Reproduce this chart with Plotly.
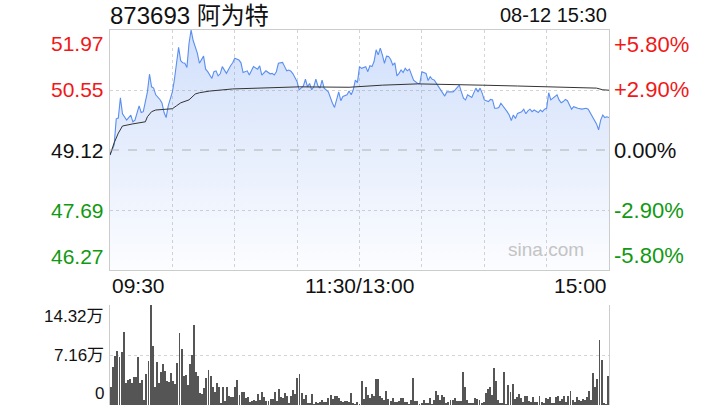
import plotly.graph_objects as go

# ---------------- data ----------------
title_text = "873693 阿为特"
time_text = "08-12 15:30"
prev_close = 49.12
price_ticks = [51.97, 50.55, 49.12, 47.69, 46.27]
pct_ticks = ["+5.80%", "+2.90%", "0.00%", "-2.90%", "-5.80%"]
x_tick_labels = ["09:30", "11:30/13:00", "15:00"]
vol_tick_labels = ["14.32万", "7.16万", "0"]
vol_max = 14.32  # 万

price_minute = [0, 2, 3, 4, 5, 6, 8, 9, 10, 11, 12, 14, 15, 16, 18, 19, 20, 21, 22, 24,
                25, 26, 27, 28, 30, 31, 32, 33, 34, 35, 36, 37, 38, 39, 40, 41, 42, 43, 44, 45,
                46, 47, 49, 50, 51, 52, 53, 54, 56, 57, 58, 59, 60, 62, 63, 64, 66, 67, 68, 69,
                71, 72, 73, 74, 75, 77, 78, 79, 80, 81, 83, 84, 85, 86, 87, 88, 90, 91, 92, 93,
                94, 95, 96, 97, 98, 99, 100, 101, 102, 103, 105, 106, 107, 108, 109, 110, 111, 112, 114, 115,
                116, 117, 118, 119, 120, 121, 123, 124, 125, 126, 127, 128, 129, 130, 131, 132, 133, 134, 135, 136,
                137, 138, 139, 140, 141, 142, 143, 144, 146, 147, 148, 149, 150, 152, 153, 154, 155, 156, 157, 159,
                160, 161, 162, 164, 165, 166, 168, 169, 170, 171, 172, 174, 175, 176, 177, 178, 179, 180, 182, 183,
                184, 185, 186, 187, 188, 190, 191, 192, 193, 194, 195, 196, 198, 199, 200, 201, 202, 203, 204, 206,
                207, 208, 209, 210, 211, 212, 213, 215, 216, 217, 218, 219, 220, 222, 223, 224, 225, 227, 229, 230,
                231, 232, 233, 234, 235, 236, 237, 238, 239, 240]
price_value = [49.00, 49.24, 49.86, 49.88, 50.36, 49.98, 49.83, 49.88, 49.95, 49.79, 49.83, 50.17, 50.01, 50.03, 50.50, 50.92, 50.62, 50.59, 50.43, 50.32,
               50.24, 50.01, 49.89, 50.17, 50.50, 50.80, 51.18, 51.56, 51.24, 51.19, 51.18, 51.08, 51.65, 51.97, 51.72, 51.57, 51.42, 51.18, 51.26, 51.35,
               51.04, 50.98, 50.82, 50.98, 51.00, 50.88, 50.93, 51.10, 50.94, 51.04, 51.12, 51.19, 51.30, 51.26, 51.19, 50.96, 51.00, 50.90, 51.02, 51.10,
               51.04, 51.12, 50.90, 50.94, 51.00, 50.93, 50.94, 50.90, 50.98, 51.18, 51.20, 51.10, 51.00, 51.02, 50.99, 50.93, 50.74, 50.55, 50.59, 50.64,
               50.80, 50.62, 50.70, 50.55, 50.62, 50.80, 50.64, 50.59, 50.78, 50.59, 50.50, 50.35, 50.23, 50.13, 50.32, 50.50, 50.29, 50.39, 50.43, 50.52,
               50.43, 50.55, 50.78, 50.72, 51.10, 51.06, 51.10, 50.98, 51.12, 51.10, 51.22, 51.50, 51.38, 51.54, 51.38, 51.18, 51.35, 51.34, 51.27, 51.14,
               51.19, 50.88, 50.94, 51.02, 50.96, 51.06, 51.00, 51.04, 50.78, 50.74, 50.70, 50.70, 50.98, 50.94, 50.77, 50.86, 50.80, 50.78, 50.70, 50.55,
               50.45, 50.40, 50.50, 50.50, 50.50, 50.55, 50.66, 50.50, 50.35, 50.31, 50.43, 50.37, 50.47, 50.59, 50.50, 50.59, 50.47, 50.31, 50.27, 50.32,
               50.31, 50.11, 50.11, 50.13, 50.23, 50.11, 50.03, 49.95, 49.82, 49.95, 49.87, 49.99, 50.03, 50.09, 49.98, 50.05, 50.09, 50.03, 50.07, 50.01,
               50.07, 50.03, 50.09, 50.11, 50.48, 50.31, 50.35, 50.43, 50.31, 50.24, 50.27, 50.32, 50.29, 50.09, 50.15, 50.13, 50.11, 50.09, 50.11, 50.09,
               50.01, 49.91, 49.83, 49.74, 49.60, 49.83, 49.95, 49.89, 49.91, 49.89]

avg_minute = [0, 2, 4, 6, 11, 17, 18, 20, 22, 27, 30, 32, 34, 38, 41, 43, 48, 59, 75, 91,
              115, 131, 148, 164, 179, 196, 212, 228, 234, 237, 240]
avg_value = [49.00, 49.29, 49.52, 49.69, 49.74, 49.79, 49.91, 50.03, 50.07, 50.09, 50.10, 50.17, 50.24, 50.31, 50.45, 50.48, 50.52, 50.57, 50.60, 50.62,
             50.61, 50.66, 50.69, 50.68, 50.66, 50.64, 50.62, 50.61, 50.59, 50.55, 50.54]

# volume per minute, in 万
volume = [2.62, 5.49, 7.02, 7.73, 6.92, 7.54, 10.50, 3.20, 3.58, 3.72,
          3.20, 4.06, 4.06, 6.92, 3.10, 3.58, 0.72, 4.44, 6.30, 14.32,
          8.45, 2.62, 6.11, 3.20, 4.77, 5.87, 4.87, 3.44, 3.34, 4.53,
          3.44, 2.96, 5.97, 10.36, 7.97, 4.20, 4.30, 2.86, 5.87, 7.16,
          11.46, 4.68, 4.15, 1.77, 1.62, 2.48, 3.82, 4.96, 4.15, 2.62,
          1.91, 3.20, 2.62, 0.24, 2.58, 0.57, 2.58, 1.29, 1.19, 1.19,
          2.53, 3.58, 1.43, 1.81, 1.81, 1.05, 1.15, 0.38, 0.62, 0.72,
          0.57, 1.58, 0.72, 1.86, 1.19, 0.57, 0.57, 0.81, 0.81, 1.86,
          0.57, 2.24, 1.19, 0.95, 1.77, 1.34, 0.24, 1.29, 2.15, 1.58,
          3.91, 4.44, 1.77, 0.81, 1.48, 0.29, 0.33, 1.58, 0.14, 0.43,
          0.33, 0.48, 0.72, 0.48, 0.38, 0.95, 1.48, 0.81, 1.24, 1.34,
          1.00, 0.57, 0.48, 0.57, 0.52, 0.48,
          1.72, 0.24, 0.14, 0.38, 0.14, 3.44, 0.81, 2.58, 1.43, 1.05,
          1.58, 1.29, 3.72, 3.72, 1.29, 0.95, 0.72, 2.00, 0.86, 0.57,
          1.00, 0.48, 0.48, 0.57, 0.95, 0.95, 0.48, 0.48, 0.14, 0.72,
          3.87, 0.57, 0.57, 0.14, 0.33, 0.72, 0.33, 0.33, 0.95, 0.05,
          0.72, 2.00, 1.48, 0.72, 1.43, 1.15, 0.24, 0.38, 0.72, 0.72,
          0.95, 0.57, 0.52, 0.52, 4.73, 2.58, 0.72, 0.29, 0.33, 0.33,
          0.95, 0.86, 0.67, 0.24, 0.38, 1.72, 2.29, 2.58, 1.43, 5.30,
          3.44, 0.72, 0.33, 0.33, 4.73, 0.14, 2.91, 1.91, 3.01, 0.91,
          1.15, 1.58, 1.05, 0.38, 1.34, 1.34, 0.57, 0.48, 1.15, 0.43,
          0.43, 1.29, 0.43, 0.29, 0.95, 0.86, 1.15, 0.33, 0.24, 1.15,
          1.29, 0.57, 0.86, 1.29, 0.38, 1.29, 2.00, 0.72, 0.38, 1.15,
          0.72, 0.57, 0.86, 0.72, 1.15, 2.00, 0.72, 4.58, 2.58, 3.72,
          9.31, 6.44, 0.24, 0.14, 4.20]
vol_minute = list(range(len(volume)))

# ---------------- styles ----------------
W, H = 720, 420
RED, GREEN, BLACK = "#f01818", "#119911", "#111111"
FONT = "Liberation Sans, Arial, Noto Sans CJK SC, sans-serif"
FS = 21


def px(x):
    return x / W


def py(y):
    return 1 - y / H


pmin, pmax = price_ticks[-1], price_ticks[0]
xdom = [px(110), px(609)]

fig = go.Figure()
fig.add_trace(go.Scatter(
    x=price_minute, y=price_value, mode="lines",
    line=dict(color="#5a8ef0", width=1.1),
    fill="tozeroy",
    fillgradient=dict(type="vertical", start=pmin, stop=pmax,
                      colorscale=[[0, "rgba(90,142,240,0.02)"], [1, "rgba(90,142,240,0.28)"]]),
    hoverinfo="skip", xaxis="x", yaxis="y"))
fig.add_trace(go.Scatter(
    x=avg_minute, y=avg_value, mode="lines",
    line=dict(color="#333333", width=1), hoverinfo="skip", xaxis="x", yaxis="y"))
fig.add_trace(go.Bar(
    x=vol_minute, y=volume, width=0.46, marker=dict(color="#555555", line=dict(width=0)),
    hoverinfo="skip", xaxis="x2", yaxis="y2"))

grid = dict(showgrid=True, gridcolor="#d4d4d4", griddash="dot", gridwidth=1)
fig.update_layout(
    width=W, height=H, margin=dict(l=0, r=0, t=0, b=0),
    paper_bgcolor="white", plot_bgcolor="white", showlegend=False,
    bargap=0,
    xaxis=dict(domain=xdom, range=[0, 240], tickvals=[30, 60, 90, 120, 150, 180, 210],
               showticklabels=False, ticks="", zeroline=False, showline=True, mirror=True,
               linecolor="#cccccc", anchor="y", **grid),
    yaxis=dict(domain=[py(270), py(30)], range=[pmin, pmax],
               tickvals=[(pmin + prev_close) / 2, (pmax + prev_close) / 2],
               showticklabels=False, ticks="", zeroline=False, showline=True, mirror=True,
               linecolor="#cccccc", anchor="x", **grid),
    xaxis2=dict(domain=xdom, range=[-0.6, 240.6], showgrid=False, showticklabels=False,
                ticks="", zeroline=False, showline=False, anchor="y2"),
    yaxis2=dict(domain=[py(405), py(305)], range=[0, vol_max],
                tickvals=[vol_max / 2, vol_max], showticklabels=False, ticks="",
                zeroline=False, showline=True, mirror=True, linecolor="#cccccc",
                anchor="x2", **grid),
)

# previous close dashed line
fig.add_shape(type="line", xref="x", yref="y", x0=0, x1=240, y0=prev_close, y1=prev_close,
              line=dict(color="#b0b0b0", width=1, dash="dash"), layer="above")

ann = []
colors = [RED, RED, BLACK, GREEN, GREEN]
anchors = ["top", "middle", "middle", "middle", "bottom"]
for val, pct, c, a in zip(price_ticks, pct_ticks, colors, anchors):
    ann.append(dict(x=px(106), y=val, xref="paper", yref="y", text=f"{val:.2f}",
                    xanchor="right", yanchor=a, showarrow=False,
                    font=dict(family=FONT, size=FS, color=c)))
    ann.append(dict(x=px(612), y=val, xref="paper", yref="y", text=pct,
                    xanchor="left", yanchor=a, showarrow=False,
                    font=dict(family=FONT, size=22, color=c)))

for txt, xv, xa in zip(x_tick_labels, [0, 120, 240], ["left", "center", "right"]):
    ann.append(dict(x=xv, y=py(272), xref="x", yref="paper", text=txt, xanchor=xa,
                    yanchor="top", showarrow=False, font=dict(family=FONT, size=FS, color=BLACK)))

for txt, yv, ya in zip(vol_tick_labels, [vol_max, vol_max / 2, 0], ["top", "middle", "bottom"]):
    ann.append(dict(x=px(106), y=yv, xref="paper", yref="y2", text=txt, xanchor="right",
                    yanchor=ya, showarrow=False, font=dict(family=FONT, size=17, color=BLACK)))

ann.append(dict(x=px(108), y=py(0), xref="paper", yref="paper", text=title_text,
                xanchor="left", yanchor="top", showarrow=False,
                font=dict(family=FONT, size=24, color=BLACK)))
ann.append(dict(x=px(609), y=py(2), xref="paper", yref="paper", text=time_text,
                xanchor="right", yanchor="top", showarrow=False,
                font=dict(family=FONT, size=20, color=BLACK)))
ann.append(dict(x=px(586), y=py(262), xref="paper", yref="paper", text="sina.com",
                xanchor="right", yanchor="bottom", showarrow=False,
                font=dict(family=FONT, size=19, color="#c4c4c4")))
fig.update_layout(annotations=ann)

fig.write_html("out.html", config={"displayModeBar": False},
               post_script="document.body.style.margin='0';")
